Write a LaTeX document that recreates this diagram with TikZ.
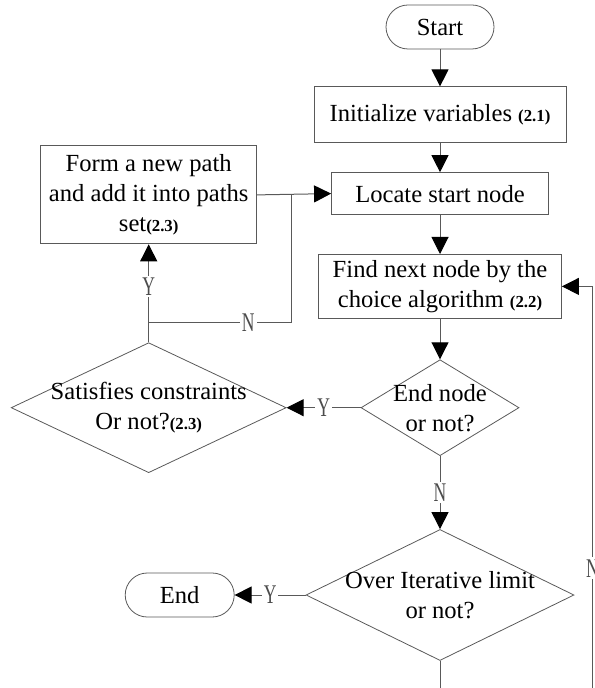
\documentclass[tikz,border=0pt]{standalone}
\usepackage{fontspec}
\setmainfont{Liberation Serif}
\usepackage{graphicx}
\usetikzlibrary{shapes.geometric,arrows.meta,positioning}

\newcommand{\refno}[1]{{\fontsize{8.4pt}{10pt}\selectfont\bfseries #1}}
\newcommand{\yn}[1]{\scalebox{0.65}[1]{#1}}

\begin{document}
\begin{tikzpicture}[
  x=0.5pt, y=-0.5pt,
  font=\fontsize{12.3pt}{15pt}\selectfont,
  term/.style={rectangle, draw=black!65, rounded corners=11pt,
               minimum width=54pt, minimum height=22pt, inner sep=0pt},
  proc/.style={rectangle, draw=black!65, align=center, inner sep=0pt},
  dia/.style={diamond, draw=black!65, inner sep=0pt},
  txt/.style={align=center, inner sep=0pt},
  arr/.style={-{Triangle[length=8.5pt,width=8.5pt,color=black]}, draw=black!65, line width=0.5pt},
  ln/.style={draw=black!65, line width=0.5pt},
  lbl/.style={fill=white, inner sep=1pt, text=black!70,
              font=\fontsize{13.5pt}{14pt}\selectfont},
]
\useasboundingbox (0,0) rectangle (594,688);
\clip (0,0) rectangle (594,688);

\node[term] (start) at (440,27) {Start};
\node[proc, minimum width=126pt, minimum height=28pt, below=18.5pt of start] (init) {Initialize variables \refno{(2.1)}};
\node[proc, minimum width=108.5pt, minimum height=21pt, below=14.5pt of init] (locate) {Locate start node};
\node[proc, minimum width=121.5pt, minimum height=32pt, below=19.5pt of locate] (find) {Find next node by the\\choice algorithm \refno{(2.2)}};
\node[dia, minimum width=79pt, minimum height=48pt, below=20.25pt of find] (endq) {};
\node[dia, minimum width=137.5pt, minimum height=65pt, left=37pt of endq] (satq) {};
\node[proc, minimum width=108pt, minimum height=49pt, above=49pt of satq] (form) {Form a new path\\and add it into paths\\set\refno{(2.3)}};
\node[dia, minimum width=134pt, minimum height=65.5pt, below=36.5pt of endq] (overq) {};
\node[term, minimum width=54.5pt, left=35.5pt of overq] (endn) {End};

% diamond texts
\node[txt] (endq-t) at (endq) {End node\\or not?};
\node[txt] (satq-t) at (satq) {Satisfies constraints\\Or not?\refno{(2.3)}};
\node[txt] (overq-t) at (overq) {Over Iterative limit\\or not?};

\coordinate (nj) at (291,323);
\coordinate (lp) at (592.5,720);

\draw[arr] (start) -- (init);
\draw[arr] (init) -- (locate);
\draw[arr] (locate) -- (find);
\draw[arr] (find) -- (endq);
\draw[arr] (endq.west) -- node[lbl]{\yn{Y}} (satq.east);
\draw[arr] (endq.south) -- node[lbl]{\yn{N}} (overq.north);
\draw[arr] (overq.west) -- node[lbl]{\yn{Y}} (endn.east);
\draw[arr] (satq.north) -- node[lbl,pos=0.57]{\yn{Y}} (form.south);
\draw[arr] (form.east) -- (locate.west);
\draw[ln] (satq.north) |- node[lbl,pos=0.85]{\yn{N}} (nj) -- (nj |- locate.west);
\draw[arr] (overq.south) |- (lp) -- node[lbl,pos=0.35]{\yn{N}} (lp |- find.east) -- (find.east);
\end{tikzpicture}
\end{document}
